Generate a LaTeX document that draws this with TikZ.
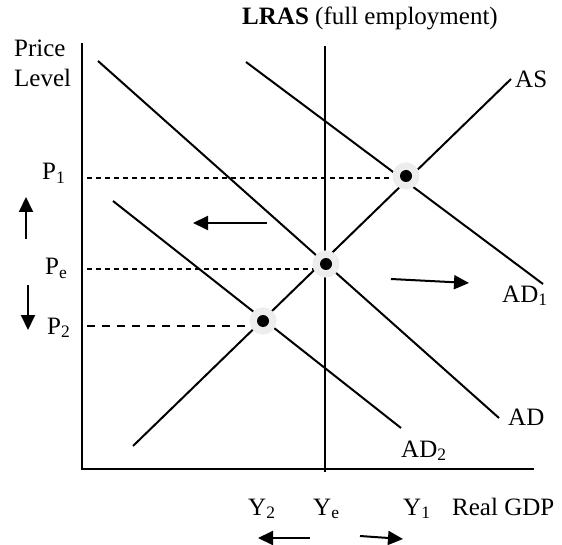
\documentclass[tikz,border=0pt]{standalone}
\usepackage{fontspec}
\setmainfont{Liberation Serif}
\usetikzlibrary{arrows.meta}
\definecolor{halo}{gray}{0.93}
\tikzset{
  lbl/.style={font=\fontsize{25}{29}\selectfont, inner sep=0pt, anchor=base west},
  curve/.style={line width=2pt},
  axis/.style={line width=2.3pt},
  guide/.style={line width=1.3pt, dash pattern=on 5pt off 4pt},
  guidewide/.style={line width=1.3pt, dash pattern=on 8pt off 7pt},
  movearrow/.style={line width=2pt, -{Triangle[length=15pt,width=14pt]}},
  eqpt/.style={circle, fill=black, inner sep=0pt, minimum size=12pt,
               preaction={draw=halo, line width=15pt}}
}
\newcommand{\sub}[1]{\raisebox{-0.32ex}{\fontsize{17.5}{17.5}\selectfont #1}}
\begin{document}
\begin{tikzpicture}[x=1pt,y=-1pt]
\useasboundingbox (0,0) rectangle (562,545);
% axes
\coordinate (ytop) at (82,43);
\coordinate (origin) at (82,469);
\coordinate (xend) at (534,469);
\draw[axis] (ytop) -- (origin) -- (xend);
% LRAS
\coordinate (lrastop) at (325,46);
\coordinate (lrasbot) at (325,472);
\draw[curve] (lrastop) -- (lrasbot);
% curves
\coordinate (as1) at (133,446); \coordinate (as2) at (511,79);
\coordinate (ad1) at (98,61);   \coordinate (ad2) at (499,418);
\coordinate (adA) at (246,62);  \coordinate (adB) at (543,284);
\coordinate (adC) at (113,201); \coordinate (adD) at (401,428);
\draw[curve] (as1) -- (as2);
\draw[curve] (ad1) -- (ad2);
\draw[curve] (adA) -- (adB);
\draw[curve] (adC) -- (adD);
% equilibria
\coordinate (e1) at (406,176);
\coordinate (e0) at (326,264);
\coordinate (e2) at (263,321);
\coordinate (p1) at (87,178);
\coordinate (pe) at (87,269);
\coordinate (p2) at (87,326);
\draw[guide] (p1) -- (e1 |- p1);
\draw[guide] (pe) -- (e0 |- pe);
\draw[guidewide] (p2) -- (e2 |- p2);
\node[eqpt] (E1) at (e1) {};
\node[eqpt] (E0) at (e0) {};
\node[eqpt] (E2) at (e2) {};
% shift arrows
\coordinate (la1) at (267,223); \coordinate (la2) at (193,223);
\coordinate (ra1) at (391,279); \coordinate (ra2) at (469,283);
\coordinate (ua1) at (26,239);  \coordinate (ua2) at (26,197);
\coordinate (da1) at (28,285);  \coordinate (da2) at (28,330);
\coordinate (bl1) at (310,538); \coordinate (bl2) at (258,538);
\coordinate (br1) at (360,536); \coordinate (br2) at (403,539);
\draw[movearrow] (la1) -- (la2);
\draw[movearrow] (ra1) -- (ra2);
\draw[movearrow] (ua1) -- (ua2);
\draw[movearrow] (da1) -- (da2);
\draw[movearrow] (bl1) -- (bl2);
\draw[movearrow] (br1) -- (br2);
% labels
\node[lbl] (price) at (14,57) {Price};
\node[lbl] (level) at (14,87) {Level};
\node[lbl, anchor=base] (lras) at (370,25) {\textbf{LRAS} (full employment)};
\node[lbl] (aslbl) at (515,88) {AS};
\node[lbl] (ad1lbl) at (502,302) {AD\sub{1}};
\node[lbl] (adlbl) at (508,425) {AD};
\node[lbl] (ad2lbl) at (401,457) {AD\sub{2}};
\node[lbl] (p1lbl) at (42,180) {P\sub{1}};
\node[lbl] (pelbl) at (45,275) {P\sub{e}};
\node[lbl] (p2lbl) at (47,334) {P\sub{2}};
\node[lbl] (y2lbl) at (248,515) {Y\sub{2}};
\node[lbl] (yelbl) at (313,515) {Y\sub{e}};
\node[lbl] (y1lbl) at (403,515) {Y\sub{1}};
\node[lbl] (gdp) at (452,515) {Real GDP};
\end{tikzpicture}
\end{document}
